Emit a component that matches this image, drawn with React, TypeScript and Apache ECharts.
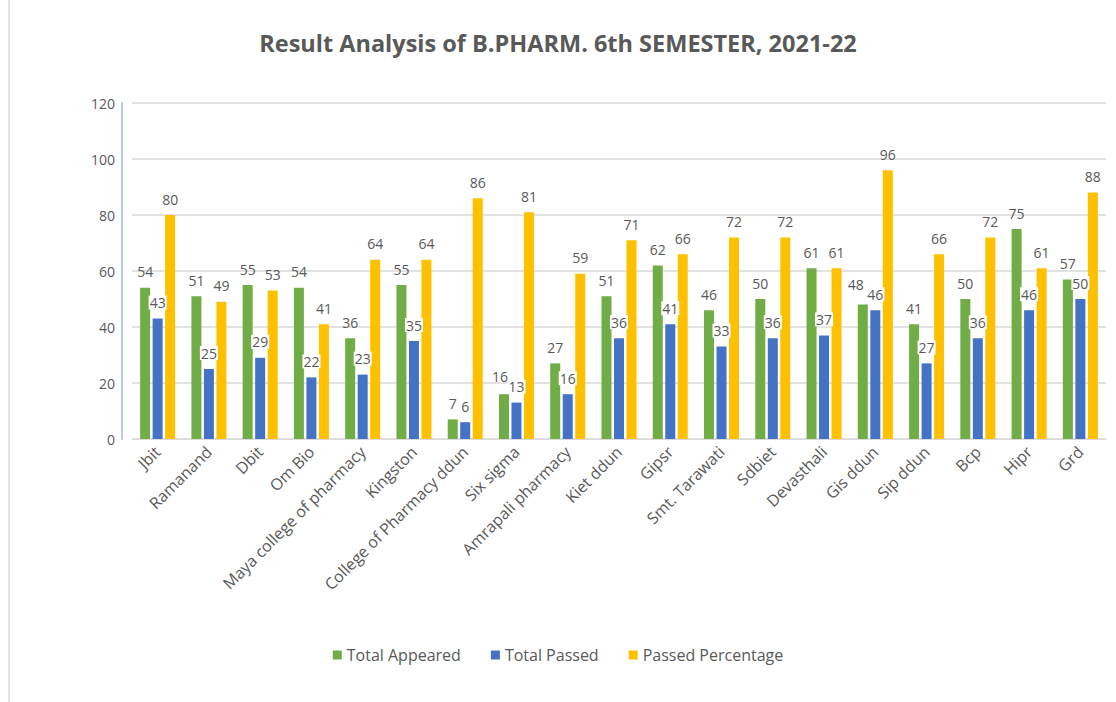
import React, { useEffect, useRef } from "react";
import * as echarts from "echarts";

const categories = [
  "Jbit", "Ramanand", "Dbit", "Om Bio", "Maya college of pharmacy", "Kingston",
  "College of Pharmacy ddun", "Six sigma", "Amrapali pharmacy", "Kiet ddun", "Gipsr",
  "Smt. Tarawati", "Sdbiet", "Devasthali", "Gis ddun", "Sip ddun", "Bcp", "Hipr", "Grd",
];
const totalAppeared = [54, 51, 55, 54, 36, 55, 7, 16, 27, 51, 62, 46, 50, 61, 48, 41, 50, 75, 57];
const totalPassed = [43, 25, 29, 22, 23, 35, 6, 13, 16, 36, 41, 33, 36, 37, 46, 27, 36, 46, 50];
const passedPercentage = [80, 49, 53, 41, 64, 64, 86, 81, 59, 71, 66, 72, 72, 61, 96, 66, 72, 61, 88];
const seriesNames = ["Total Appeared", "Total Passed", "Passed Percentage"];
const colors = ["#70ad47", "#4472c4", "#ffc000"];
const titleText = "Result Analysis of B.PHARM. 6th SEMESTER, 2021-22";

const FONT = "'Open Sans', 'Noto Sans', sans-serif";
const TXT = "#595959";

export default function App() {
  const ref = useRef<HTMLDivElement>(null);
  useEffect(() => {
    if (!ref.current) return;
    const chart = echarts.init(ref.current, null, { renderer: "svg" });
    const label = (bg: boolean) => ({
      show: true,
      position: "top" as const,
      distance: 9,
      fontSize: 14,
      color: TXT,
      fontFamily: FONT,
      ...(bg ? { backgroundColor: "#ffffff", padding: [0, 1] } : {}),
    });
    const appearedOffsets: Record<number, number[]> = { 7: [-4, -2], 14: [-7, -4] };
    const appearedData = totalAppeared.map((v, i) =>
      appearedOffsets[i] ? { value: v, label: { offset: appearedOffsets[i] } } : v
    );
    chart.setOption({
      animation: false,
      backgroundColor: "#ffffff",
      textStyle: { fontFamily: FONT },
      title: {
        text: titleText,
        left: "center",
        top: 26,
        textStyle: { fontSize: 23.5, fontWeight: "bold", color: TXT, fontFamily: FONT },
      },
      legend: {
        bottom: 34,
        left: "center",
        itemWidth: 9,
        itemHeight: 9,
        itemGap: 30,
        icon: "rect",
        textStyle: { fontSize: 16, color: TXT, fontFamily: FONT },
        data: seriesNames,
      },
      graphic: [
        {
          type: "line",
          shape: { x1: 9, y1: 0, x2: 9, y2: 702 },
          style: { stroke: "#e3e3e3", lineWidth: 2 },
        },
      ],
      grid: { left: 132, right: 10, top: 103, height: 336 },
      xAxis: {
        type: "category",
        data: categories,
        axisTick: { show: false },
        axisLine: { show: true, lineStyle: { color: "#d9d9d9" } },
        axisLabel: {
          interval: 0,
          rotate: 45,
          fontSize: 16,
          color: TXT,
          fontFamily: FONT,
          margin: 10,
        },
      },
      yAxis: {
        type: "value",
        min: 0,
        max: 120,
        interval: 20,
        offset: 10,
        axisLine: { show: true, lineStyle: { color: "#b4cde4", width: 2 } },
        axisTick: { show: false },
        axisLabel: { fontSize: 14, color: TXT, fontFamily: FONT, margin: 7 },
        splitLine: { lineStyle: { color: "#d9d9d9", width: 1.5 } },
      },
      series: [
        {
          name: seriesNames[0],
          type: "bar",
          data: appearedData,
          barWidth: 10,
          barGap: "25%",
          itemStyle: { color: colors[0] },
          label: label(false),
        },
        {
          name: seriesNames[1],
          type: "bar",
          data: totalPassed,
          barWidth: 10,
          barGap: "25%",
          itemStyle: { color: colors[1] },
          label: label(true),
        },
        {
          name: seriesNames[2],
          type: "bar",
          data: passedPercentage,
          barWidth: 10,
          barGap: "25%",
          itemStyle: { color: colors[2] },
          label: label(false),
        },
      ],
    });
    return () => chart.dispose();
  }, []);
  return (
    <div
      ref={ref}
      style={{ position: "fixed", left: 0, top: 0, width: 1116, height: 702, background: "#fff" }}
    />
  );
}
